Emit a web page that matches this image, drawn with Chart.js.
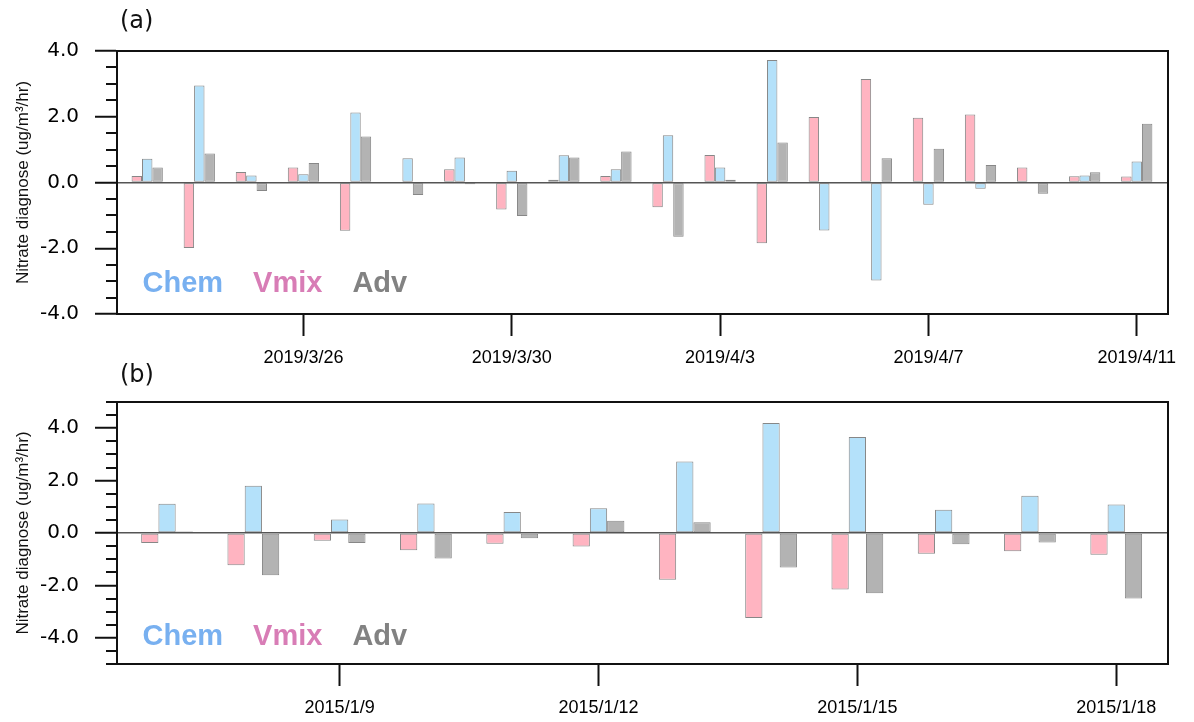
<!DOCTYPE html>
<html>
<head>
<meta charset="utf-8">
<script src="https://cdn.jsdelivr.net/npm/chart.js@4"></script>
<style>
  html, body { margin: 0; padding: 0; background: #fff; }
  .wrap { position: relative; width: 1194px; height: 722px; overflow: hidden; }
  canvas { display: block; position: absolute; left: 0; }
  #chartA { top: 0; }
  #chartB { top: 361px; }
</style>
</head>
<body>
<div class="wrap">
  <canvas id="chartA" width="1194" height="380"></canvas>
  <canvas id="chartB" width="1194" height="361"></canvas>
</div>
<script>
// panel (a): spring 2019
const datesA = ['2019/3/23', '2019/3/24', '2019/3/25', '2019/3/26', '2019/3/27', '2019/3/28', '2019/3/29',
  '2019/3/30', '2019/3/31', '2019/4/1', '2019/4/2', '2019/4/3', '2019/4/4', '2019/4/5', '2019/4/6',
  '2019/4/7', '2019/4/8', '2019/4/9', '2019/4/10', '2019/4/11'];
const vmixA = [0.20, -1.99, 0.32, 0.46, -1.47, 0.00, 0.40, -0.82, 0.08, 0.20, -0.75, 0.84, -1.85, 1.99, 3.15, 1.97, 2.07, 0.46, 0.19, 0.18];
const chemA = [0.72, 2.95, 0.21, 0.25, 2.13, 0.74, 0.76, 0.36, 0.83, 0.40, 1.44, 0.46, 3.73, -1.46, -2.98, -0.68, -0.19, 0.00, 0.21, 0.64];
const advA  = [0.46, 0.88, -0.26, 0.59, 1.40, -0.38, -0.05, -1.02, 0.76, 0.94, -1.65, 0.08, 1.22, -0.03, 0.74, 1.03, 0.53, -0.34, 0.31, 1.79];
const tickLabelsA = ['2019/3/26', '2019/3/30', '2019/4/3', '2019/4/7', '2019/4/11'];

// panel (b): winter 2015
const datesB = ['2015/1/7', '2015/1/8', '2015/1/9', '2015/1/10', '2015/1/11', '2015/1/12',
  '2015/1/13', '2015/1/14', '2015/1/15', '2015/1/16', '2015/1/17', '2015/1/18'];
const vmixB = [-0.38, -1.23, -0.30, -0.66, -0.41, -0.52, -1.78, -3.24, -2.16, -0.79, -0.70, -0.83];
const chemB = [1.12, 1.80, 0.52, 1.13, 0.80, 0.94, 2.73, 4.20, 3.66, 0.89, 1.42, 1.09];
const advB  = [0.06, -1.61, -0.38, -0.97, -0.20, 0.47, 0.41, -1.32, -2.30, -0.43, -0.36, -2.50];
const tickLabelsB = ['2015/1/9', '2015/1/12', '2015/1/15', '2015/1/18'];

const legendOrder = ['Chem', 'Vmix', 'Adv'];
const seriesStyle = {
  Vmix: { fill: '#ffb4c1', text: '#d87db6' },
  Chem: { fill: '#b4e1fa', text: '#78b0f0' },
  Adv:  { fill: '#b3b3b3', text: '#828282' }
};

// frame, minor y ticks, panel letter and the coloured text legend
const panelDecor = {
  id: 'panelDecor',
  afterDraw(chart, args, opts) {
    const { ctx, chartArea: a } = chart;
    const y = chart.scales.y;
    ctx.save();
    ctx.strokeStyle = '#111';
    ctx.lineWidth = 2;
    y.ticks.forEach(t => {
      if (t.value % 2 !== 0) {
        const py = Math.round(y.getPixelForValue(t.value));
        ctx.beginPath();
        ctx.moveTo(a.left - 11, py);
        ctx.lineTo(a.left, py);
        ctx.stroke();
      }
    });
    ctx.strokeRect(a.left, a.top, a.right - a.left, a.bottom - a.top);

    ctx.fillStyle = '#111';
    ctx.font = '24px "DejaVu Sans"';
    ctx.textBaseline = 'middle';
    ctx.fillText(opts.letter, a.left + 3, a.top - opts.letterGap);

    ctx.font = 'bold 29px "Liberation Sans"';
    ctx.textBaseline = 'alphabetic';
    let x = a.left + 25.5;
    legendOrder.forEach(name => {
      ctx.fillStyle = seriesStyle[name].text;
      ctx.fillText(name, x, a.bottom - opts.legendLift);
      x += ctx.measureText(name).width + 30;
    });
    ctx.restore();
  }
};

function makePanel(id, dates, vmix, chem, adv, tickLabels, yMin, yMax, layout) {
  const series = { Vmix: vmix, Chem: chem, Adv: adv };
  const datasets = ['Vmix', 'Chem', 'Adv'].map(name => ({
    label: name,
    data: series[name].map((v, i) => ({ x: i, y: v })),
    backgroundColor: seriesStyle[name].fill,
    borderColor: 'rgba(70,70,70,0.65)',
    borderWidth: 1,
    borderSkipped: false,
    categoryPercentage: 0.6,
    barPercentage: 1.0
  }));

  return new Chart(document.getElementById(id), {
    type: 'bar',
    data: { datasets },
    plugins: [panelDecor],
    options: {
      responsive: false,
      animation: false,
      layout: { padding: { top: layout.top, right: 26, left: 0, bottom: 0 } },
      plugins: {
        legend: { display: false },
        tooltip: { enabled: false },
        panelDecor: { letter: layout.letter, letterGap: layout.letterGap, legendLift: layout.legendLift }
      },
      scales: {
        x: {
          type: 'linear',
          offset: false,
          min: -0.58,
          max: dates.length - 1 + 0.6,
          afterBuildTicks: scale => {
            scale.ticks = tickLabels.map(l => ({ value: dates.indexOf(l) }));
          },
          afterFit: scale => { scale.height = layout.xHeight; },
          ticks: {
            autoSkip: false,
            maxRotation: 0,
            padding: 11,
            color: '#000',
            font: { family: 'Liberation Sans', size: 18 },
            callback: v => dates[v]
          },
          grid: { offset: false, drawOnChartArea: false, tickLength: 22, tickWidth: 2, tickColor: '#111' },
          border: { display: true, color: '#111', width: 2 }
        },
        y: {
          min: yMin,
          max: yMax,
          afterFit: scale => { scale.width = 117; },
          ticks: {
            stepSize: 0.5,
            autoSkip: false,
            padding: 16,
            color: '#000',
            font: { family: 'DejaVu Sans', size: 20 },
            callback: v => (v % 2 === 0 ? v.toFixed(1) : '')
          },
          grid: {
            drawOnChartArea: true,
            lineWidth: 1.5,
            color: c => (c.tick && c.tick.value === 0 ? '#555' : 'rgba(0,0,0,0)'),
            tickLength: 22,
            tickWidth: 2,
            tickColor: c => (c.tick && c.tick.value % 2 === 0 ? '#111' : 'rgba(0,0,0,0)')
          },
          border: { display: true, color: '#111', width: 2 },
          title: {
            display: true,
            text: 'Nitrate diagnose (ug/m³/hr)',
            color: '#111',
            font: { family: 'Liberation Sans', size: 17 },
            padding: { top: 13, bottom: 0 }
          }
        }
      }
    }
  });
}

makePanel('chartA', datesA, vmixA, chemA, advA, tickLabelsA, -4, 4,
  { top: 51, xHeight: 66, letter: '(a)', letterGap: 29, legendLift: 22 });
makePanel('chartB', datesB, vmixB, chemB, advB, tickLabelsB, -5, 5,
  { top: 41, xHeight: 58, letter: '(b)', letterGap: 26, legendLift: 19 });
</script>
</body>
</html>
